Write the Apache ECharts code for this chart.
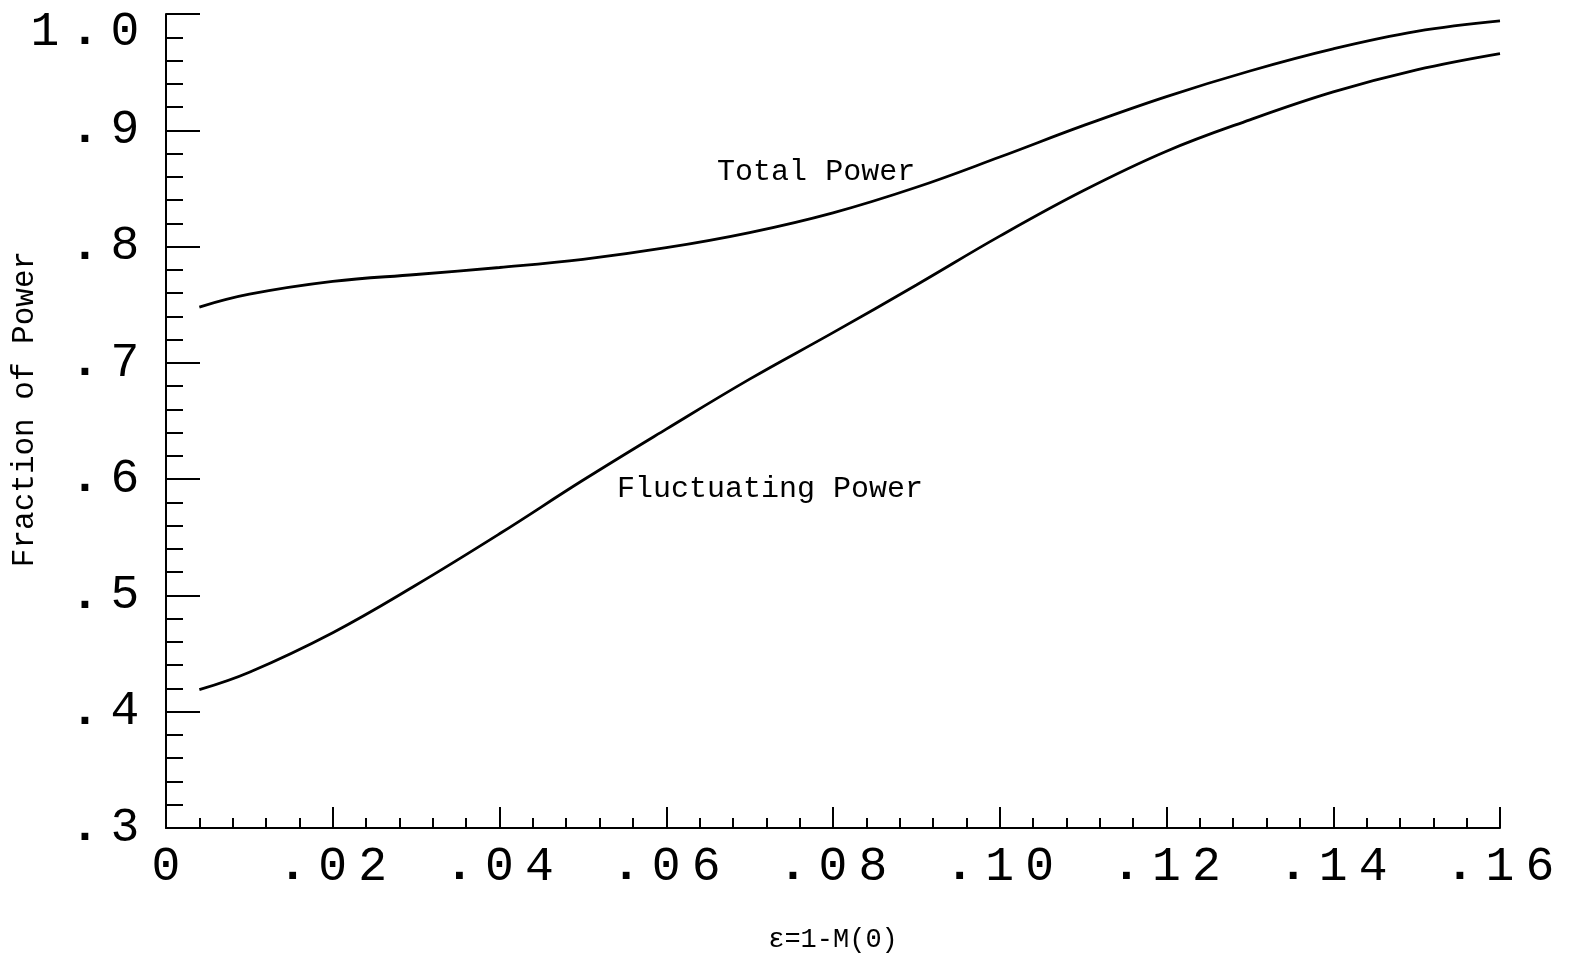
<!DOCTYPE html>
<html>
<head>
<meta charset="utf-8">
<script src="https://cdn.jsdelivr.net/npm/echarts@6/dist/echarts.min.js"></script>
<style>
  html, body { margin: 0; padding: 0; background: #ffffff; }
  #chart { width: 1583px; height: 957px; }
</style>
</head>
<body>
<div id="chart"></div>
<script>
// epsilon = 1 - M(0)
const epsilon = [0.004, 0.01, 0.02, 0.03, 0.04, 0.05, 0.06, 0.07, 0.08,
                 0.09, 0.10, 0.11, 0.12, 0.13, 0.14, 0.15, 0.16];
const totalPower = [0.748, 0.759, 0.770, 0.776, 0.782, 0.789, 0.799, 0.812, 0.829,
                    0.851, 0.877, 0.904, 0.929, 0.951, 0.970, 0.985, 0.994];
const fluctuatingPower = [0.419, 0.434, 0.468, 0.509, 0.553, 0.599, 0.643, 0.686, 0.726,
                          0.767, 0.809, 0.848, 0.882, 0.909, 0.933, 0.952, 0.966];
const xTickLabels = ['0', '.02', '.04', '.06', '.08', '.10', '.12', '.14', '.16'];
const yTickLabels = ['.3', '.4', '.5', '.6', '.7', '.8', '.9', '1.0'];

const INK = '#000000';
const MONO = '"Liberation Mono", "DejaVu Sans Mono", monospace';
const DIGIT_SIZE = 48;
const CELL = 40;

// Each character of a tick label sits in a fixed-width cell (wide plotter lettering).
function spaced(text, shifted) {
  return text.split('').map(function (c) {
    const key = (c === '.' ? 'p' : 'd') + (shifted ? 's' : '');
    return '{' + key + '|' + c + '}';
  }).join('');
}
const cellRich = {
  d:  { fontFamily: MONO, fontSize: DIGIT_SIZE, color: INK, width: CELL, align: 'center' },
  p:  { fontFamily: MONO, fontSize: DIGIT_SIZE, fontWeight: 'bold', color: INK, width: CELL, align: 'center' },
  ds: { fontFamily: MONO, fontSize: DIGIT_SIZE, color: INK, width: CELL, align: 'center', padding: [36, 0, 0, 0] },
  ps: { fontFamily: MONO, fontSize: DIGIT_SIZE, fontWeight: 'bold', color: INK, width: CELL, align: 'center', padding: [36, 0, 0, 0] }
};

function pairs(ys) { return epsilon.map(function (x, i) { return [x, ys[i]]; }); }

const chart = echarts.init(document.getElementById('chart'), null, { renderer: 'canvas' });

chart.setOption({
  animation: false,
  backgroundColor: '#ffffff',
  grid: { left: 166, right: 83, top: 14, bottom: 129, containLabel: false, outerBoundsMode: 'none' },
  xAxis: {
    type: 'value',
    min: 0, max: 0.16, interval: 0.02,
    name: 'ε=1-M(0)',
    nameLocation: 'middle',
    nameGap: 98,
    nameTextStyle: { fontFamily: MONO, fontSize: 27, color: INK },
    axisLine: { onZero: false, lineStyle: { color: INK, width: 2 } },
    axisTick: { inside: true, length: 21, lineStyle: { color: INK, width: 2 } },
    minorTick: { show: true, splitNumber: 5, length: 10, lineStyle: { color: INK, width: 2 } },
    splitLine: { show: false },
    minorSplitLine: { show: false },
    axisLabel: {
      margin: 15,
      formatter: function (v) { return spaced(xTickLabels[Math.round(v / 0.02)]); },
      rich: cellRich
    }
  },
  yAxis: {
    type: 'value',
    min: 0.3, max: 1.0, interval: 0.1,
    axisLine: { onZero: false, lineStyle: { color: INK, width: 2 } },
    axisTick: { inside: true, length: 34, lineStyle: { color: INK, width: 2 } },
    minorTick: { show: true, splitNumber: 5, length: 17, lineStyle: { color: INK, width: 2 } },
    splitLine: { show: false },
    minorSplitLine: { show: false },
    axisLabel: {
      margin: 21,
      formatter: function (v) {
        const idx = Math.round((v - 0.3) / 0.1);
        return spaced(yTickLabels[idx], idx === yTickLabels.length - 1);
      },
      rich: cellRich
    }
  },
  series: [
    {
      name: 'Total Power',
      type: 'line',
      data: pairs(totalPower),
      smooth: 0.4,
      showSymbol: false,
      lineStyle: { color: INK, width: 2.8 }
    },
    {
      name: 'Fluctuating Power',
      type: 'line',
      data: pairs(fluctuatingPower),
      smooth: 0.4,
      showSymbol: false,
      lineStyle: { color: INK, width: 2.8 }
    }
  ]
});

// Curve captions anchored in data space, plus the vertical axis title.
const totalAt = chart.convertToPixel({ gridIndex: 0 }, [0.0661, 0.8640]);
const flucAt = chart.convertToPixel({ gridIndex: 0 }, [0.0541, 0.5915]);
const captionStyle = { fontFamily: MONO, fontSize: 30, fill: INK, align: 'left', verticalAlign: 'middle' };

chart.setOption({
  graphic: [
    { type: 'text', x: totalAt[0], y: totalAt[1],
      style: Object.assign({ text: 'Total Power' }, captionStyle) },
    { type: 'text', x: flucAt[0], y: flucAt[1],
      style: Object.assign({ text: 'Fluctuating Power' }, captionStyle) },
    { type: 'text', x: 25, y: 409, rotation: Math.PI / 2,
      style: { text: 'Fraction of Power', fontFamily: MONO, fontSize: 31, fill: INK,
               align: 'center', verticalAlign: 'middle' } }
  ]
});
</script>
</body>
</html>
